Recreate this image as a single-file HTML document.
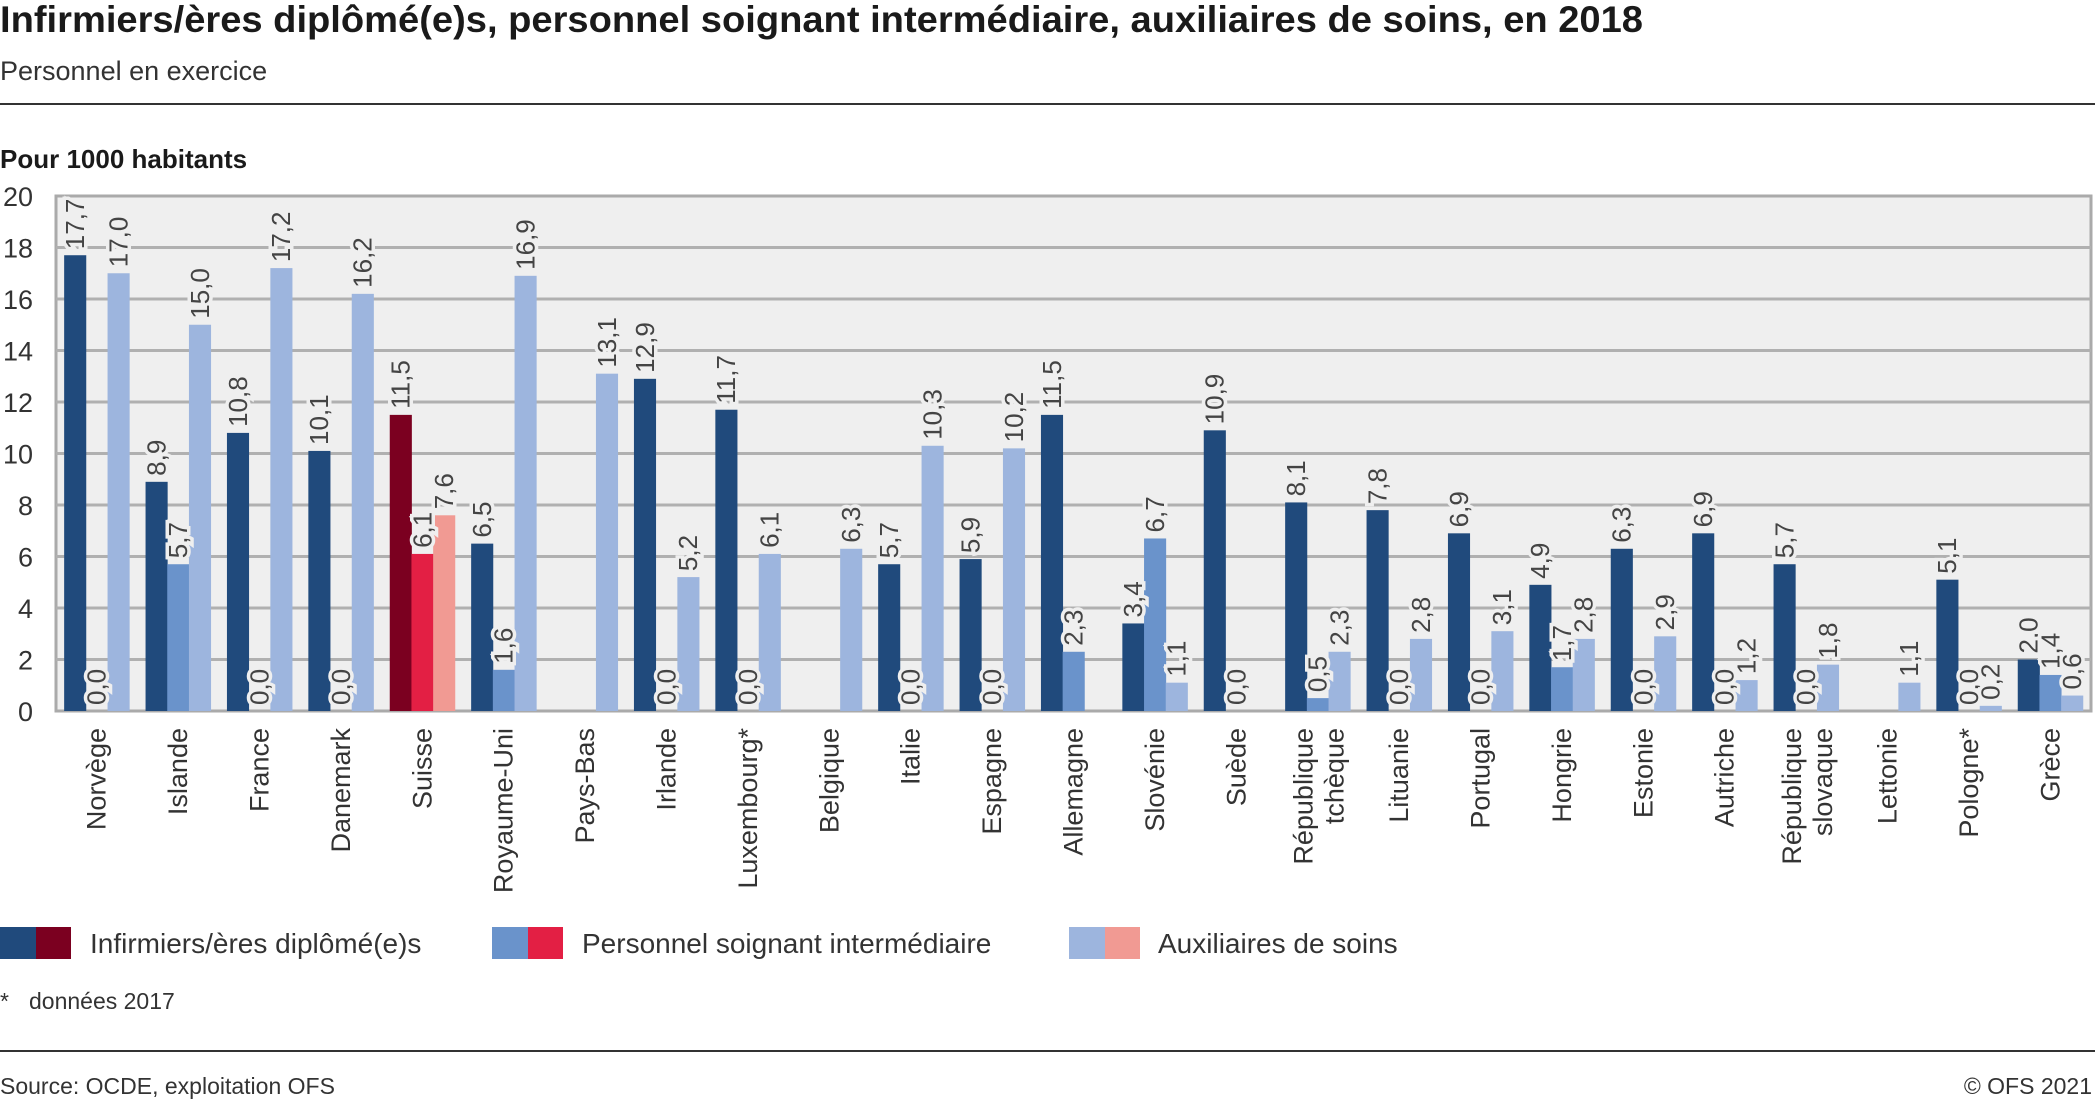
<!DOCTYPE html>
<html><head><meta charset="utf-8"><style>
html,body{margin:0;padding:0;background:#fff;}
body{width:2095px;height:1099px;overflow:hidden;font-family:"Liberation Sans",sans-serif;}
</style></head><body>
<svg id="chart" width="2095" height="1099" xmlns="http://www.w3.org/2000/svg" font-family="Liberation Sans, sans-serif">
<text x="0" y="32" font-size="37" font-weight="bold" fill="#1a1a1a" textLength="1643" lengthAdjust="spacingAndGlyphs">Infirmiers/ères diplômé(e)s, personnel soignant intermédiaire, auxiliaires de soins, en 2018</text>
<text x="0" y="80" font-size="27" fill="#333">Personnel en exercice</text>
<rect x="0" y="103" width="2095" height="2" fill="#333"/>
<text x="0" y="168" font-size="26" font-weight="bold" fill="#1a1a1a">Pour 1000 habitants</text>
<rect x="56" y="196" width="2035" height="515" fill="#efefef" stroke="#aaa" stroke-width="3"/>
<g id="grid"></g><g id="bars"></g><g id="labels"></g>
<g font-size="28" fill="#333">
<rect x="0" y="927" width="36" height="32" fill="#204a7c"/>
<rect x="36" y="927" width="35" height="32" fill="#7b0020"/>
<text x="90" y="953">Infirmiers/ères diplômé(e)s</text>
<rect x="492" y="927" width="36" height="32" fill="#6a93cb"/>
<rect x="528" y="927" width="35" height="32" fill="#e31f44"/>
<text x="582" y="953">Personnel soignant intermédiaire</text>
<rect x="1069" y="927" width="36" height="32" fill="#9db5de"/>
<rect x="1105" y="927" width="35" height="32" fill="#f19a93"/>
<text x="1158" y="953">Auxiliaires de soins</text>
</g>
<text x="0" y="1009" font-size="23" fill="#333">*<tspan x="29">données 2017</tspan></text>
<rect x="0" y="1050" width="2095" height="2" fill="#333"/>
<text x="0" y="1094" font-size="23" fill="#333">Source: OCDE, exploitation OFS</text>
<text x="2092" y="1094" font-size="23" fill="#333" text-anchor="end">© OFS 2021</text>
</svg>
<script>
const categories=["Norvège","Islande","France","Danemark","Suisse","Royaume-Uni","Pays-Bas","Irlande","Luxembourg*","Belgique","Italie","Espagne","Allemagne","Slovénie","Suède","République|tchèque","Lituanie","Portugal","Hongrie","Estonie","Autriche","République|slovaque","Lettonie","Pologne*","Grèce"];
const nurses=[17.7,8.9,10.8,10.1,11.5,6.5,null,12.9,11.7,null,5.7,5.9,11.5,3.4,10.9,8.1,7.8,6.9,4.9,6.3,6.9,5.7,null,5.1,2.0];
const intermediate=[0,5.7,0,0,6.1,1.6,null,0,0,null,0,0,2.3,6.7,0,0.5,0,0,1.7,0,0,0,null,0,1.4];
const aides=[17.0,15.0,17.2,16.2,7.6,16.9,13.1,5.2,6.1,6.3,10.3,10.2,null,1.1,null,2.3,2.8,3.1,2.8,2.9,1.2,1.8,1.1,0.2,0.6];
const yTicks=[0,2,4,6,8,10,12,14,16,18,20];
const NS="http://www.w3.org/2000/svg";
const X0=56,X1=2091,Y0=711,Y1=196,YMAX=20;
const slot=(X1-X0)/categories.length, bw=21.7;
function y(v){return Y0-(v/YMAX)*(Y0-Y1);}
function xBar(i,s){return X0+slot*i+slot/2-1.5*bw+s*bw;}
function mk(tag,attrs,parent){const e=document.createElementNS(NS,tag);for(const k in attrs)e.setAttribute(k,attrs[k]);parent.appendChild(e);return e;}
const grid=document.getElementById('grid'),bars=document.getElementById('bars'),labels=document.getElementById('labels');
yTicks.forEach(t=>{
  if(t>0&&t<YMAX){const l=mk('line',{x1:X0,x2:X1,y1:y(t),y2:y(t),stroke:'#b0b0b0','stroke-width':3},grid);
  
  }
  const tx=mk('text',{x:33,y:y(t)+10,'font-size':27,fill:'#333','text-anchor':'end'},grid);
  tx.textContent=t;
  
  
});
const series=[[nurses,'#204a7c','#7b0020','nurses'],[intermediate,'#6a93cb','#e31f44','intermediate'],[aides,'#9db5de','#f19a93','aides']];
categories.forEach((c,i)=>{
  const ch=c==='Suisse';
  series.forEach((s,si)=>{
    const v=s[0][i]; if(v===null)return;
    const bx=xBar(i,si);
    const r=mk('rect',{x:bx,y:y(v),width:bw+0.4,height:Y0-y(v),fill:ch?s[2]:s[1]},bars);
    
    
    const lx=bx+bw/2+9, ly=y(v)-6;
    const t=mk('text',{x:lx,y:ly,'font-size':26,fill:'#444','text-anchor':'start',transform:`rotate(-90 ${lx} ${ly})`,stroke:'#efefef','stroke-width':7,'paint-order':'stroke'},labels);
    t.textContent=v.toFixed(1).replace('.',',');
    
    
  });
  const parts=c.split('|'), cx=X0+slot*i+slot/2, top=728;
  parts.forEach((p,pi)=>{
    const lx=cx+9+(parts.length>1?(pi===0?-14:17):0);
    const t=mk('text',{x:lx,y:top,'font-size':27,fill:'#333','text-anchor':'end',transform:`rotate(-90 ${lx} ${top})`},labels);
    t.textContent=p;
    
    
  });
});
</script>
</body></html>
